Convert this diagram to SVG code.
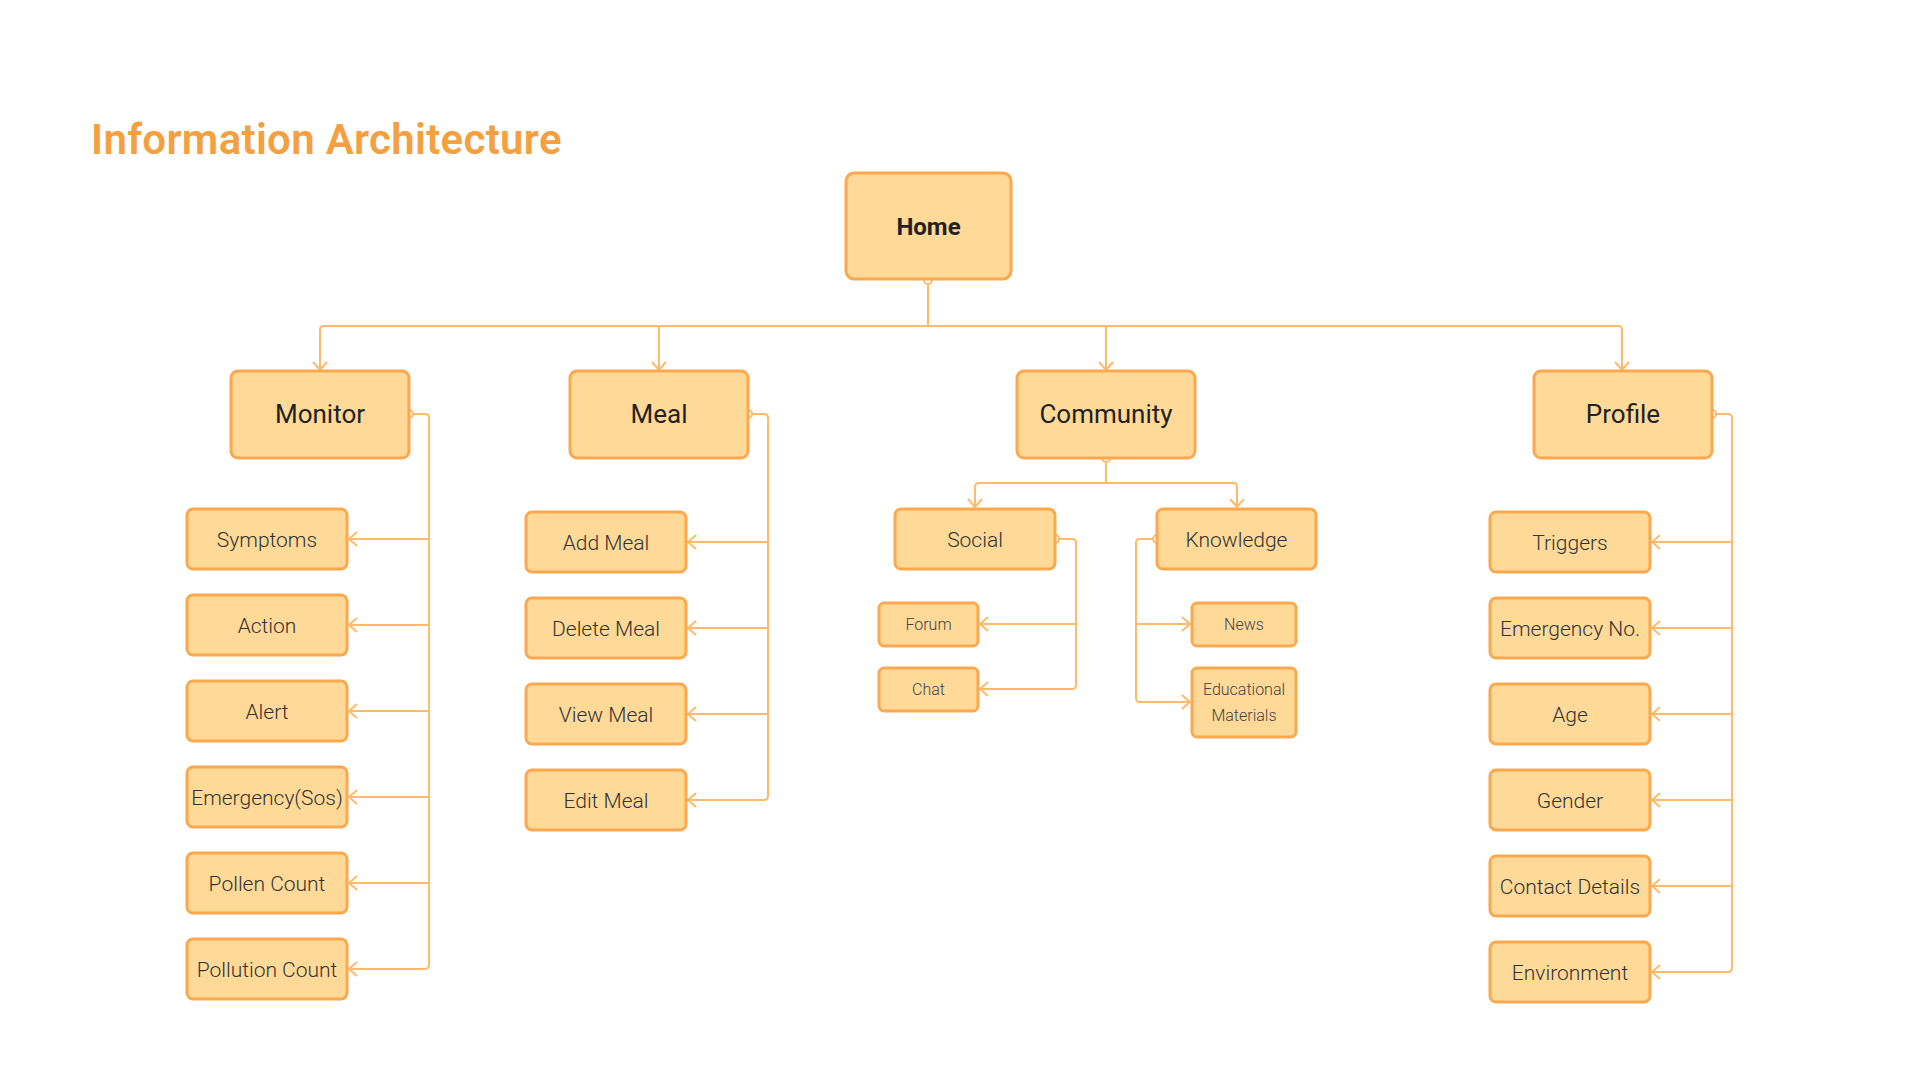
<svg xmlns="http://www.w3.org/2000/svg" width="1920" height="1080" viewBox="0 0 1920 1080">
<style>
.bx{fill:#FFD998;stroke:#FCA84E;stroke-width:3}
.c{fill:none;stroke:#FFBA6B;stroke-width:2}
.dot{fill:none;stroke:#FFBA6B;stroke-width:2}
text{font-family:Roboto,"Liberation Sans",sans-serif;text-anchor:middle}
.t1{font-size:24px;font-weight:700;fill:#222}
.t2{font-size:26px;font-weight:400;fill:#222}
.t3{font-size:21px;font-weight:300;fill:#333}
.t4{font-size:21px;font-weight:300;fill:#333}
.t5{font-size:16px;font-weight:300;fill:#444}
.title{font-size:42px;font-weight:600;fill:#F4A041;text-anchor:start;letter-spacing:0.3px}
</style>
<defs>
<marker id="a" viewBox="-10 -9 12 18" refX="0" refY="0" markerWidth="12" markerHeight="18" markerUnits="userSpaceOnUse" orient="auto">
<path d="M-8,-7 L0,0 L-8,7" fill="none" stroke="#FFBA6B" stroke-width="2"/>
</marker>
</defs>
<rect width="1920" height="1080" fill="#FFFFFF"/>
<text class="title" x="91" y="154">Information Architecture</text>

<g id="connectors">
<circle class="dot" cx="928" cy="280" r="4"/>
<path class="c" d="M928,284 V326"/>
<path class="c" d="M928,326 H324 Q320,326 320,330 V370" marker-end="url(#a)"/>
<path class="c" d="M928,326 H659 V370" marker-end="url(#a)"/>
<path class="c" d="M928,326 H1106 V370" marker-end="url(#a)"/>
<path class="c" d="M928,326 H1618 Q1622,326 1622,330 V370" marker-end="url(#a)"/>

<circle class="dot" cx="409" cy="414" r="4"/>
<path class="c" d="M413,414 H425 Q429,414 429,418 V965 Q429,969 425,969 H349" marker-end="url(#a)"/>
<path class="c" d="M429,539 H349" marker-end="url(#a)"/>
<path class="c" d="M429,625 H349" marker-end="url(#a)"/>
<path class="c" d="M429,711 H349" marker-end="url(#a)"/>
<path class="c" d="M429,797 H349" marker-end="url(#a)"/>
<path class="c" d="M429,883 H349" marker-end="url(#a)"/>

<circle class="dot" cx="748" cy="414" r="4"/>
<path class="c" d="M752,414 H764 Q768,414 768,418 V796 Q768,800 764,800 H688" marker-end="url(#a)"/>
<path class="c" d="M768,542 H688" marker-end="url(#a)"/>
<path class="c" d="M768,628 H688" marker-end="url(#a)"/>
<path class="c" d="M768,714 H688" marker-end="url(#a)"/>

<circle class="dot" cx="1106" cy="458" r="4"/>
<path class="c" d="M1106,462 V483"/>
<path class="c" d="M1106,483 H979 Q975,483 975,487 V507" marker-end="url(#a)"/>
<path class="c" d="M1106,483 H1233 Q1237,483 1237,487 V507" marker-end="url(#a)"/>

<circle class="dot" cx="1055" cy="539" r="4"/>
<path class="c" d="M1059,539 H1072 Q1076,539 1076,543 V685 Q1076,689 1072,689 H980" marker-end="url(#a)"/>
<path class="c" d="M1076,624 H980" marker-end="url(#a)"/>

<circle class="dot" cx="1157" cy="539" r="4"/>
<path class="c" d="M1153,539 H1140 Q1136,539 1136,543 V698 Q1136,702 1140,702 H1190" marker-end="url(#a)"/>
<path class="c" d="M1136,624 H1190" marker-end="url(#a)"/>

<circle class="dot" cx="1712" cy="414" r="4"/>
<path class="c" d="M1716,414 H1728 Q1732,414 1732,418 V968 Q1732,972 1728,972 H1652" marker-end="url(#a)"/>
<path class="c" d="M1732,542 H1652" marker-end="url(#a)"/>
<path class="c" d="M1732,628 H1652" marker-end="url(#a)"/>
<path class="c" d="M1732,714 H1652" marker-end="url(#a)"/>
<path class="c" d="M1732,800 H1652" marker-end="url(#a)"/>
<path class="c" d="M1732,886 H1652" marker-end="url(#a)"/>
</g>

<g id="home"><rect class="bx" x="846" y="173" width="165" height="106" rx="8"/><text class="t1" x="928.5" y="235">Home</text></g>

<g id="monitor"><rect class="bx" x="231" y="371" width="178" height="87" rx="7"/><text class="t2" x="320" y="423">Monitor</text></g>
<g id="meal"><rect class="bx" x="570" y="371" width="178" height="87" rx="7"/><text class="t2" x="659" y="423">Meal</text></g>
<g id="community"><rect class="bx" x="1017" y="371" width="178" height="87" rx="7"/><text class="t2" x="1106" y="423">Community</text></g>
<g id="profile"><rect class="bx" x="1534" y="371" width="178" height="87" rx="7"/><text class="t2" x="1623" y="423">Profile</text></g>

<g id="symptoms"><rect class="bx" x="187" y="509" width="160" height="60" rx="6"/><text class="t4" x="267" y="546.5">Symptoms</text></g>
<g id="action"><rect class="bx" x="187" y="595" width="160" height="60" rx="6"/><text class="t4" x="267" y="632.5">Action</text></g>
<g id="alert"><rect class="bx" x="187" y="681" width="160" height="60" rx="6"/><text class="t4" x="267" y="718.5">Alert</text></g>
<g id="emergency-sos"><rect class="bx" x="187" y="767" width="160" height="60" rx="6"/><text class="t4" x="267" y="804.5">Emergency(Sos)</text></g>
<g id="pollen-count"><rect class="bx" x="187" y="853" width="160" height="60" rx="6"/><text class="t4" x="267" y="890.5">Pollen Count</text></g>
<g id="pollution-count"><rect class="bx" x="187" y="939" width="160" height="60" rx="6"/><text class="t4" x="267" y="976.5">Pollution Count</text></g>

<g id="add-meal"><rect class="bx" x="526" y="512" width="160" height="60" rx="6"/><text class="t4" x="606" y="549.5">Add Meal</text></g>
<g id="delete-meal"><rect class="bx" x="526" y="598" width="160" height="60" rx="6"/><text class="t4" x="606" y="635.5">Delete Meal</text></g>
<g id="view-meal"><rect class="bx" x="526" y="684" width="160" height="60" rx="6"/><text class="t4" x="606" y="721.5">View Meal</text></g>
<g id="edit-meal"><rect class="bx" x="526" y="770" width="160" height="60" rx="6"/><text class="t4" x="606" y="807.5">Edit Meal</text></g>

<g id="social"><rect class="bx" x="895" y="509" width="160" height="60" rx="6"/><text class="t3" x="975" y="546.5">Social</text></g>
<g id="knowledge"><rect class="bx" x="1157" y="509" width="159" height="60" rx="6"/><text class="t3" x="1236.5" y="546.5">Knowledge</text></g>
<g id="forum"><rect class="bx" x="879" y="603" width="99" height="43" rx="5"/><text class="t5" x="928.5" y="630">Forum</text></g>
<g id="chat"><rect class="bx" x="879" y="668" width="99" height="43" rx="5"/><text class="t5" x="928.5" y="695">Chat</text></g>
<g id="news"><rect class="bx" x="1192" y="603" width="104" height="43" rx="5"/><text class="t5" x="1244" y="630">News</text></g>
<g id="educational-materials"><rect class="bx" x="1192" y="668" width="104" height="69" rx="5"/><text class="t5" x="1244" y="695">Educational</text><text class="t5" x="1244" y="721">Materials</text></g>

<g id="triggers"><rect class="bx" x="1490" y="512" width="160" height="60" rx="6"/><text class="t4" x="1570" y="549.5">Triggers</text></g>
<g id="emergency-no"><rect class="bx" x="1490" y="598" width="160" height="60" rx="6"/><text class="t4" x="1570" y="635.5">Emergency No.</text></g>
<g id="age"><rect class="bx" x="1490" y="684" width="160" height="60" rx="6"/><text class="t4" x="1570" y="721.5">Age</text></g>
<g id="gender"><rect class="bx" x="1490" y="770" width="160" height="60" rx="6"/><text class="t4" x="1570" y="807.5">Gender</text></g>
<g id="contact-details"><rect class="bx" x="1490" y="856" width="160" height="60" rx="6"/><text class="t4" x="1570" y="893.5">Contact Details</text></g>
<g id="environment"><rect class="bx" x="1490" y="942" width="160" height="60" rx="6"/><text class="t4" x="1570" y="979.5">Environment</text></g>
</svg>
